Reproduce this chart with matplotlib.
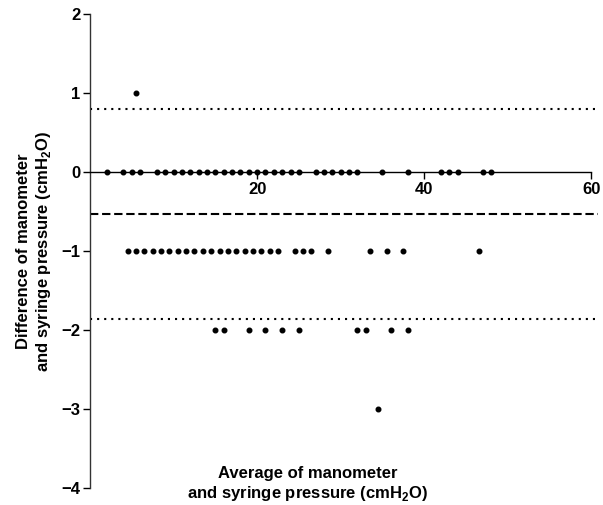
import numpy as np
import matplotlib
matplotlib.use("Agg")
from matplotlib import pyplot as plt

# points, grouped by difference row
x_zero = [2, 4, 5, 6] + list(range(8, 26)) + [27, 28, 29, 30, 31, 32, 35, 38, 42, 43, 44, 47, 48]
x_minus1 = [4.5 + i for i in range(19)] + [24.5, 25.5, 26.5, 28.5, 33.5, 35.5, 37.5, 46.5]
x_minus2 = [15, 16, 19, 21, 23, 25, 32, 33, 36, 38]
x_minus3 = [34.5]
x_plus1 = [5.5]

avg = np.array(x_zero + x_minus1 + x_minus2 + x_minus3 + x_plus1)
diff = np.array([0] * len(x_zero) + [-1] * len(x_minus1) + [-2] * len(x_minus2)
                + [-3] * len(x_minus3) + [1] * len(x_plus1))

bias = -0.53
upper_loa = 0.80
lower_loa = -1.86

x_ticks = [20, 40, 60]
y_ticks = [2, 1, 0, -1, -2, -3, -4]

plt.rcParams["font.family"] = ["Liberation Sans", "DejaVu Sans"]
plt.rcParams["font.weight"] = "bold"
plt.rcParams["mathtext.fontset"] = "custom"
plt.rcParams["mathtext.rm"] = "Liberation Sans:bold"
plt.rcParams["mathtext.bf"] = "Liberation Sans:bold"

fig = plt.figure(figsize=(6.03, 5.05), dpi=100)
ax = fig.add_axes([90 / 603, 17 / 505, 508 / 603, 474 / 505])

ax.plot(avg, diff, "o", color="black", ms=3.3, clip_on=False, zorder=3)

ax.axhline(upper_loa, color="black", lw=1.5, ls=(0, (1, 2.4)))
ax.axhline(lower_loa, color="black", lw=1.5, ls=(0, (1, 2.4)))
ax.axhline(bias, color="black", lw=1.5, ls=(0, (4, 1.8)))

ax.set_xlim(0, 60.8)
ax.set_ylim(-4, 2)

# axes styled like prism: x axis runs through zero
ax.spines["top"].set_visible(False)
ax.spines["right"].set_visible(False)
ax.spines["bottom"].set_position(("data", 0))
ax.spines["bottom"].set_bounds(0, 60)
ax.spines["left"].set_bounds(-4, 2)
ax.spines["left"].set_color("#333333")
for s in ["bottom", "left"]:
    ax.spines[s].set_linewidth(1.0)

ax.set_xticks(x_ticks)
ax.set_yticks(y_ticks)
ax.tick_params(axis="both", direction="out", length=5, width=1, labelsize=12, pad=2)
for lab in ax.get_xticklabels() + ax.get_yticklabels():
    lab.set_fontweight("bold")

ax.set_ylabel("Difference of manometer\nand syringe pressure (cmH$_\\mathrm{2}$O)",
              fontsize=12, fontweight="bold", labelpad=6)
ax.text(26.1, -3.96, "Average of manometer\nand syringe pressure (cmH$_\\mathrm{2}$O)",
        fontsize=12, fontweight="bold", ha="center", va="center")

plt.savefig("out.png", dpi=100)
